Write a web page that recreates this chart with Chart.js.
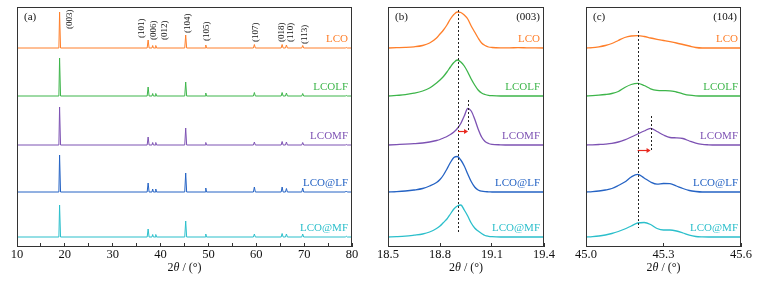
<!DOCTYPE html>
<html>
<head>
<meta charset="utf-8">
<script src="https://cdn.jsdelivr.net/npm/chart.js@4.4.1/dist/chart.umd.min.js"></script>
<style>
  html, body { margin: 0; padding: 0; background: #fff; }
  #wrap { position: relative; width: 761px; height: 281px; overflow: hidden; }
  canvas { position: absolute; top: 0; }
</style>
</head>
<body>
<div id="wrap">
  <canvas id="a" width="365" height="281" style="left:0"></canvas>
  <canvas id="b" width="190" height="281" style="left:370px"></canvas>
  <canvas id="c" width="201" height="281" style="left:560px"></canvas>
</div>
<script>
var names = ['LCO', 'LCOLF', 'LCOMF', 'LCO@LF', 'LCO@MF'];
var colors = ['#ff7f2a', '#3db54a', '#7d52b3', '#2563c4', '#2bbfcb'];
// vertical stacking of the patterns
var offsets = [199, 151, 102, 55, 10];

// (a) full pattern 10-80 deg: feet and apex of each reflection
var xA = [10, 18.75, 18.9, 19.1, 37.2, 37.4, 37.6, 38.2, 38.35, 38.5, 38.85, 39.0, 39.15, 45.05, 45.25, 45.45,
  49.3, 49.45, 49.6, 59.4, 59.6, 59.8, 65.2, 65.4, 65.6, 66.1, 66.3, 66.5, 69.5, 69.7, 69.9, 78.6, 78.8, 79.0, 80];
var lcoA   = [0, 0,36,0, 0,8,0, 0,2.5,0, 0,2.5,0, 0,13,0, 0,3,0, 0,3.5,0, 0,3.5,0, 0,3,0, 0,2.5,0, 0,0.5,0, 0];
var lcolfA = [0, 0,38,0, 0,9,0, 0,2.5,0, 0,2.5,0, 0,14,0, 0,3,0, 0,3.5,0, 0,3.5,0, 0,3,0, 0,2.5,0, 0,0.5,0, 0];
var lcomfA = [0, 0,38,0, 0,8,0, 0,2.5,0, 0,2.5,0, 0,17,0, 0,2.5,0, 0,3,0, 0,3.5,0, 0,3,0, 0,2.5,0, 0,0.5,0, 0];
var lcolf2A = [0, 0,37,0, 0,9,0, 0,3,0, 0,3,0, 0,19,0, 0,4,0, 0,5,0, 0,5,0, 0,3.5,0, 0,4,0, 0,1,0, 0];
var lcomf2A = [0, 0,32,0, 0,8,0, 0,2.5,0, 0,2.5,0, 0,16,0, 0,3,0, 0,3,0, 0,3.5,0, 0,3,0, 0,3,0, 0,0.8,0, 0];

// (b) (003) reflection
var xB = [18.50, 18.55, 18.60, 18.65, 18.70, 18.74, 18.78, 18.80, 18.82, 18.84, 18.86, 18.88, 18.90, 18.92, 18.94,
  18.96, 18.98, 19.00, 19.02, 19.04, 19.06, 19.08, 19.10, 19.15, 19.20, 19.25, 19.30, 19.35, 19.40];
var lcoB   = [0, 0.3, 0.6, 1.2, 2.5, 5, 10, 14, 18, 23, 29, 33.5, 36, 35.5, 33, 29, 22, 16, 10, 5, 2.5, 1, 0.5, 0.2, 0.2, 0.3, 0.2, 0.1, 0];
var lcolfB = [0, 0.6, 1.3, 2.8, 5, 8, 13, 16, 19.5, 24, 29, 33.5, 36, 34, 30, 24, 17, 11, 6, 3, 1.5, 0.6, 0.3, 0, 0, 0, 0, 0, 0];
var lcomfB = [0, 0.4, 0.8, 1.3, 2, 3, 4.5, 5.5, 7, 8.5, 10.5, 13, 16.5, 21.5, 29, 36.5, 34, 26, 16, 8, 3.5, 1.5, 0.7, 0.2, 0, 0, 0, 0, 0];
var lcolf2B = [0, 0.4, 1, 2, 3.5, 6, 9.5, 12.5, 17, 23, 29.5, 34.5, 35.5, 32, 26, 18, 10.5, 5, 2, 0.8, 0.3, 0.2, 0, 0, 0, 0, 0, 0, 0];
var lcomf2B = [0, 0.3, 0.8, 1.8, 3, 5, 8.5, 11, 14.5, 18, 23, 28, 31, 32, 27, 21, 14, 9, 6, 3.5, 1.5, 0.7, 0.3, 0, 0, 0, 0, 0, 0];

// (c) (104) reflection
var xC = [45.000, 45.025, 45.050, 45.075, 45.100, 45.125, 45.150, 45.175, 45.200, 45.225, 45.250, 45.275, 45.300,
  45.325, 45.350, 45.375, 45.400, 45.425, 45.450, 45.475, 45.500, 45.525, 45.550, 45.575, 45.600];
var lcoC   = [0, 0.3, 1.2, 2.5, 4.5, 7.5, 10.5, 12, 12.3, 11.5, 10, 8.7, 7.5, 6.3, 5, 3.5, 2, 0.5, 0, 0, 0, 0, 0, 0, 0];
var lcolfC = [0, 0.3, 0.8, 1.5, 2.5, 4.5, 8.5, 11.5, 12.7, 10.5, 7.2, 5.6, 5.3, 5.2, 4, 2.2, 0.8, 0.2, 0, 0, 0, 0, 0, 0, 0];
var lcomfC = [0, 0.2, 0.5, 0.9, 1.6, 3, 5.2, 8, 11, 14, 16.7, 13.5, 10, 7.5, 7.2, 6.5, 4, 1.8, 0.6, 0.2, 0, 0, 0, 0, 0];
var lcolf2C = [0, 0.4, 1, 2, 3.5, 6.5, 10, 15, 17.7, 14, 10, 7.8, 8.5, 8.3, 6, 3.5, 1.5, 0.5, 0, 0, 0, 0, 0, 0, 0];
var lcomf2C = [0, 0.4, 1, 2, 3.5, 5.5, 8, 11, 14, 14.5, 12.5, 8.5, 7, 7, 6, 4, 1.8, 0.5, 0.1, 0, 0, 0, 0, 0, 0];

var peakLabels = ['(003)', '(101)', '(006)', '(012)', '(104)', '(105)', '(107)', '(018)', '(110)', '(113)'];

var serif = "'Liberation Serif', 'Times New Roman', serif";

var decor = {
  id: 'decor',
  afterDraw: function (chart, args, o) {
    var ctx = chart.ctx, a = chart.chartArea;
    var sx = chart.scales.x, sy = chart.scales.y;
    ctx.save();
    // frame
    ctx.strokeStyle = '#333';
    ctx.lineWidth = 1;
    ctx.strokeRect(a.left + 0.5, a.top + 0.5, a.right - a.left - 1, a.bottom - a.top - 1);

    // dotted guide lines
    ctx.setLineDash([2, 2]);
    ctx.strokeStyle = '#222';
    (o.vlines || []).forEach(function (v) {
      var px = Math.round(sx.getPixelForValue(v.x)) + 0.5;
      ctx.beginPath();
      ctx.moveTo(px, sy.getPixelForValue(v.y1));
      ctx.lineTo(px, sy.getPixelForValue(v.y2));
      ctx.stroke();
    });
    ctx.setLineDash([]);

    // shift arrow
    if (o.arrow) {
      var x1 = sx.getPixelForValue(o.arrow.x1), x2 = sx.getPixelForValue(o.arrow.x2);
      var ay = Math.round(sy.getPixelForValue(o.arrow.y)) + 0.5;
      ctx.strokeStyle = '#e8281e';
      ctx.fillStyle = '#e8281e';
      ctx.lineWidth = 1.2;
      ctx.beginPath();
      ctx.moveTo(x1, ay);
      ctx.lineTo(x2 - 3, ay);
      ctx.stroke();
      ctx.beginPath();
      ctx.moveTo(x2, ay);
      ctx.lineTo(x2 - 4, ay - 2.5);
      ctx.lineTo(x2 - 4, ay + 2.5);
      ctx.closePath();
      ctx.fill();
    }

    // rotated reflection indices
    ctx.fillStyle = '#111';
    ctx.font = '9px ' + serif;
    ctx.textAlign = 'left';
    ctx.textBaseline = 'middle';
    (o.peaks || []).forEach(function (p, i) {
      ctx.save();
      ctx.translate(sx.getPixelForValue(p.x), sy.getPixelForValue(p.y));
      ctx.rotate(-Math.PI / 2);
      ctx.fillText(peakLabels[i], 0, 0);
      ctx.restore();
    });

    // sample names
    ctx.font = '11px ' + serif;
    ctx.textAlign = 'right';
    chart.data.datasets.forEach(function (ds, i) {
      ctx.fillStyle = ds.borderColor;
      ctx.fillText(ds.label, a.right - o.inset, sy.getPixelForValue(offsets[i] + 9));
    });

    // panel letter and reflection tag
    ctx.fillStyle = '#111';
    ctx.font = '11px ' + serif;
    ctx.textAlign = 'left';
    ctx.fillText(o.panel, a.left + 7, a.top + 10);
    if (o.tag) {
      ctx.textAlign = 'right';
      ctx.fillText(o.tag, a.right - 4, a.top + 10);
    }

    // axis title 2θ / (°)
    var parts = [['2', ''], ['\u03b8', 'italic '], [' / (\u00b0)', '']];
    var w = 0;
    parts.forEach(function (p) { ctx.font = p[1] + '12px ' + serif; w += ctx.measureText(p[0]).width; });
    var tx = (a.left + a.right) / 2 - w / 2;
    ctx.textAlign = 'left';
    parts.forEach(function (p) {
      ctx.font = p[1] + '12px ' + serif;
      ctx.fillText(p[0], tx, 268);
      tx += ctx.measureText(p[0]).width;
    });
    ctx.restore();
  }
};

function makeSets(xs, series, width, smooth) {
  return series.map(function (vals, i) {
    return {
      label: names[i],
      data: xs.map(function (x, j) { return { x: x, y: vals[j] + offsets[i] }; }),
      borderColor: colors[i],
      borderWidth: width,
      pointRadius: 0,
      fill: false,
      tension: 0,
      cubicInterpolationMode: smooth ? 'monotone' : 'default'
    };
  });
}

function makeChart(id, sets, xmin, xmax, step, digits, pad, deco) {
  return new Chart(document.getElementById(id), {
    type: 'line',
    data: { datasets: sets },
    options: {
      responsive: false,
      animation: false,
      layout: { padding: { left: pad[0], right: pad[1], top: 7, bottom: 0 } },
      plugins: { legend: { display: false }, tooltip: { enabled: false }, decor: deco },
      scales: {
        x: {
          type: 'linear',
          min: xmin,
          max: xmax,
          border: { display: false },
          grid: { drawOnChartArea: false, drawTicks: true, tickLength: -4, color: '#333', tickColor: '#333' },
          ticks: {
            stepSize: step,
            autoSkip: false,
            maxRotation: 0,
            minRotation: 0,
            padding: 4,
            color: '#111',
            font: { family: serif, size: 12.5 },
            callback: function (v) {
              if (digits === 0) return (Math.abs(v % 10) < 1e-6) ? String(v) : '';
              return v.toFixed(digits);
            }
          },
          afterFit: function (s) { s.height = 34; }
        },
        y: { display: false, min: 0, max: 240 }
      }
    },
    plugins: [decor]
  });
}

makeChart('a', makeSets(xA, [lcoA, lcolfA, lcomfA, lcolf2A, lcomf2A], 1, false), 10, 80, 5, 0, [17, 13], {
  panel: '(a)', inset: 4,
  peaks: [{ x: 21.0, y: 218 }, { x: 36.0, y: 209 }, { x: 38.6, y: 207 }, { x: 40.8, y: 207 }, { x: 45.7, y: 214 },
          { x: 49.7, y: 206 }, { x: 59.9, y: 205 }, { x: 65.4, y: 205 }, { x: 67.1, y: 205 }, { x: 70.2, y: 203 }]
});

makeChart('b', makeSets(xB, [lcoB, lcolfB, lcomfB, lcolf2B, lcomf2B], 1.3, true), 18.5, 19.4, 0.3, 1, [18, 16], {
  panel: '(b)', tag: '(003)', inset: 4,
  vlines: [{ x: 18.904, y1: 237, y2: 14 }, { x: 18.963, y1: 147, y2: 116 }],
  arrow: { x1: 18.904, x2: 18.962, y: 116 }
});

makeChart('c', makeSets(xC, [lcoC, lcolfC, lcomfC, lcolf2C, lcomf2C], 1.3, true), 45.0, 45.6, 0.3, 1, [26, 20], {
  panel: '(c)', tag: '(104)', inset: 3,
  vlines: [{ x: 45.2, y1: 216, y2: 19 }, { x: 45.25, y1: 131, y2: 97 }],
  arrow: { x1: 45.2, x2: 45.25, y: 97 }
});
</script>
</body>
</html>
